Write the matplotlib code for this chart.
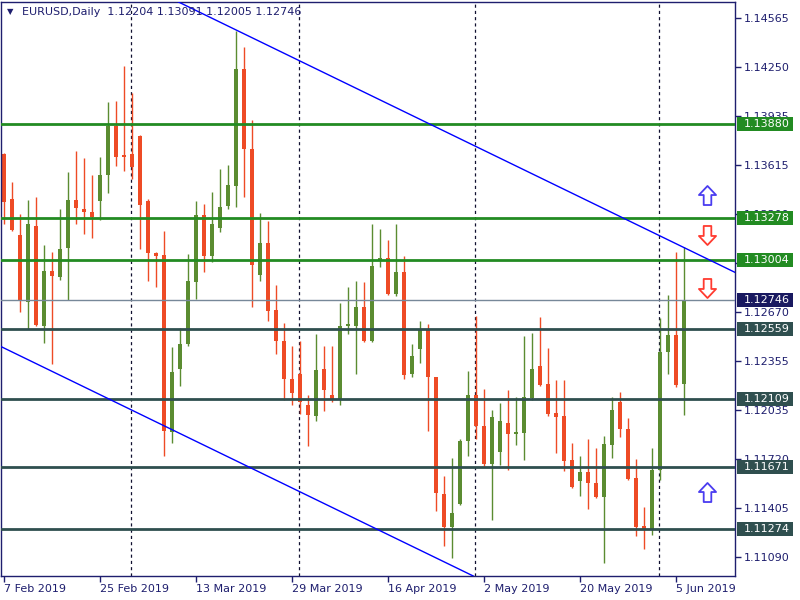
import matplotlib
matplotlib.use("Agg")
import matplotlib.pyplot as plt
import pandas as pd
from matplotlib.path import Path
from matplotlib.patches import Rectangle

# EURUSD daily candles, 7 Feb - 6 Jun 2019
dates = pd.bdate_range("2019-02-07", "2019-06-06")
opens = [1.13688, 1.13398, 1.13166, 1.12734, 1.13224, 1.12579, 1.12934, 1.12895, 1.13082, 1.13392,
         1.13334, 1.13314, 1.13385, 1.13553, 1.13869, 1.13682, 1.13688, 1.13804, 1.13385, 1.13050,
         1.13037, 1.11896, 1.12302, 1.12463, 1.12863, 1.13295, 1.13031, 1.13211, 1.13353, 1.13482,
         1.14236, 1.13720, 1.12908, 1.13114, 1.12682, 1.12482, 1.12237, 1.12269, 1.12070, 1.11999,
         1.12302, 1.12134, 1.12102, 1.12579, 1.12579, 1.12702, 1.12482, 1.13005, 1.13018, 1.12785,
         1.12927, 1.12269, 1.12431, 1.12559, 1.12250, 1.11496, 1.11283, 1.11431, 1.11838, 1.12134,
         1.11934, 1.11689, 1.11767, 1.11954, 1.11883, 1.11890, 1.12115, 1.12321, 1.12205, 1.12018,
         1.11999, 1.11715, 1.11580, 1.11638, 1.11567, 1.11477, 1.11812, 1.12089, 1.11915, 1.11599,
         1.11290, 1.11264, 1.11651, 1.12411, 1.12521, 1.12204]
highs = [1.13695, 1.13508, 1.13301, 1.13392, 1.13411, 1.13102, 1.13056, 1.13334, 1.13572, 1.13708,
         1.13662, 1.13553, 1.13669, 1.14023, 1.14030, 1.14256, 1.14082, 1.13810, 1.13398, 1.13055,
         1.13192, 1.12443, 1.12566, 1.13043, 1.13385, 1.13366, 1.13443, 1.13591, 1.13617, 1.14481,
         1.14378, 1.13907, 1.13308, 1.13256, 1.12844, 1.12598, 1.12450, 1.12482, 1.12134, 1.12527,
         1.12450, 1.12450, 1.12727, 1.12830, 1.12869, 1.12863, 1.13237, 1.13205, 1.13134, 1.13237,
         1.13031, 1.12463, 1.12611, 1.12592, 1.12250, 1.11612, 1.11728, 1.11851, 1.12289, 1.12643,
         1.12173, 1.12038, 1.12083, 1.12166, 1.12121, 1.12514, 1.12534, 1.12637, 1.12437, 1.12231,
         1.12231, 1.11825, 1.11741, 1.11851, 1.11793, 1.11870, 1.12121, 1.12153, 1.11986, 1.11722,
         1.11412, 1.11793, 1.12630, 1.12779, 1.13056, 1.13091]
lows = [1.13237, 1.13192, 1.12669, 1.12559, 1.12580, 1.12470, 1.12334, 1.12876, 1.12747, 1.13237,
        1.13172, 1.13147, 1.13263, 1.13437, 1.13611, 1.13579, 1.13527, 1.13076, 1.12869, 1.12830,
        1.11741, 1.11825, 1.12192, 1.12450, 1.12753, 1.12927, 1.12992, 1.13185, 1.13334, 1.13346,
        1.13411, 1.12702, 1.12869, 1.12611, 1.12398, 1.12102, 1.12070, 1.12012, 1.11806, 1.11967,
        1.12031, 1.12089, 1.12070, 1.12527, 1.12269, 1.12476, 1.12476, 1.12960, 1.12780, 1.12772,
        1.12237, 1.12250, 1.12340, 1.11902, 1.11386, 1.11161, 1.11083, 1.11425, 1.11741, 1.11851,
        1.11677, 1.11328, 1.11683, 1.11651, 1.11812, 1.11715, 1.12102, 1.12195, 1.11999, 1.11760,
        1.11644, 1.11535, 1.11483, 1.11399, 1.11470, 1.11051, 1.11728, 1.11864, 1.11586, 1.11225,
        1.11141, 1.11232, 1.11586, 1.12269, 1.12186, 1.12005]
closes = [1.13379, 1.13198, 1.12747, 1.13237, 1.12586, 1.12934, 1.12902, 1.13076, 1.13392, 1.13340,
          1.13314, 1.13282, 1.13553, 1.13869, 1.13669, 1.13669, 1.13604, 1.13360, 1.13050, 1.13031,
          1.11902, 1.12282, 1.12463, 1.12869, 1.13295, 1.13031, 1.13237, 1.13346, 1.13488, 1.14236,
          1.13720, 1.12972, 1.13114, 1.12676, 1.12482, 1.12237, 1.12147, 1.12089, 1.12006, 1.12295,
          1.12166, 1.12102, 1.12579, 1.12592, 1.12702, 1.12482, 1.12966, 1.13018, 1.12785, 1.12927,
          1.12263, 1.12386, 1.12559, 1.12250, 1.11502, 1.11283, 1.11373, 1.11838, 1.12134, 1.11934,
          1.11689, 1.11993, 1.11967, 1.11883, 1.11896, 1.12121, 1.12302, 1.12199, 1.12012, 1.11993,
          1.11709, 1.11541, 1.11638, 1.11567, 1.11477, 1.11818, 1.12038, 1.11915, 1.11593, 1.11283,
          1.11264, 1.11651, 1.12411, 1.12521, 1.12199, 1.12746]

# horizontal levels
upper_levels = [1.13880, 1.13278, 1.13004]
lower_levels = [1.12559, 1.12109, 1.11671, 1.11274]
price_ticks = [1.14565, 1.14250, 1.13935, 1.13615, 1.13300, 1.12985,
               1.12670, 1.12355, 1.12035, 1.11720, 1.11405, 1.11090]
date_tick_idx = [0, 12, 24, 36, 48, 60, 72, 84]

# descending channel: two anchors on the upper line, lower line is parallel
channel_x = [29, 85]
channel_top = [1.14488, 1.13085]
channel_width = 0.02777

# arrow objects on the right
arrow_x = 87.9
up_arrows = [1.13421, 1.11509]
down_arrows = [1.13163, 1.12827]

BULL = "#5b8c31"
BEAR = "#ee4b25"
NAVY = "#1e1e6e"
GREEN_LVL = "#228b22"
SLATE_LVL = "#2f4f4f"

plt.rcParams["font.family"] = "DejaVu Sans"
fig = plt.figure(figsize=(8, 6), dpi=100)
ax = fig.add_axes([1 / 800, 24 / 600, 734 / 800, 574 / 600])

# month separators
for i in range(1, len(dates)):
    if dates[i].month != dates[i - 1].month:
        ax.axvline(i - 0.12, color="#101030", lw=0.9, ls=(0, (2.5, 2.5)), zorder=0.5)

# candles
xs = list(range(len(opens)))
cols = [BULL if c > o else BEAR for o, c in zip(opens, closes)]
ax.vlines(xs, lows, highs, colors=cols, lw=1, zorder=2)
bottoms = [min(o, c) for o, c in zip(opens, closes)]
heights = [max(abs(c - o), 0.00004) for o, c in zip(opens, closes)]
ax.bar(xs, heights, bottom=bottoms, width=0.62, color=cols, lw=0, zorder=2)

# levels
for lv in upper_levels:
    ax.axhline(lv, color=GREEN_LVL, lw=2, zorder=3)
for lv in lower_levels:
    ax.axhline(lv, color=SLATE_LVL, lw=2, zorder=3)
ax.axhline(closes[-1], color="#778899", lw=1, zorder=3)

# channel
ax.axline((channel_x[0], channel_top[0]), (channel_x[1], channel_top[1]), color="#0000ff", lw=1, zorder=3)
ax.axline((channel_x[0], channel_top[0] - channel_width), (channel_x[1], channel_top[1] - channel_width),
          color="#0000ff", lw=1, zorder=3)

# hollow arrows
up_shape = Path([(0, 1), (0.9, 0.05), (0.4, 0.05), (0.4, -1), (-0.4, -1), (-0.4, 0.05), (-0.9, 0.05), (0, 1)],
                closed=True)
down_shape = Path([(x, -y) for x, y in up_shape.vertices], closed=True)
ax.plot([arrow_x] * len(up_arrows), up_arrows, ls="none", marker=up_shape, ms=13.7,
        mfc="white", mec="#4a3cf0", mew=1.3, zorder=4)
ax.plot([arrow_x] * len(down_arrows), down_arrows, ls="none", marker=down_shape, ms=13.7,
        mfc="white", mec="#ff3b30", mew=1.3, zorder=4)

ax.set_xlim(-0.375, 91.375)
ax.set_ylim(1.10968, 1.14668)

# axes styling
for sp in ax.spines.values():
    sp.set_color(NAVY)
    sp.set_linewidth(1)
ax.yaxis.tick_right()
ax.set_yticks(price_ticks)
ax.set_yticklabels([f"{p:.5f}" for p in price_ticks])
ax.set_xticks(date_tick_idx)
ax.set_xticklabels([f"{dates[i].day} {dates[i]:%b %Y}" for i in date_tick_idx], ha="left")
ax.tick_params(axis="both", colors=NAVY, labelcolor=NAVY, labelsize=8, length=4, width=1)
ax.tick_params(axis="x", pad=1.5)
ax.tick_params(axis="y", pad=2.5)

# level price tags
tag_h = 14 * (1.14668 - 1.10968) / 574
tags = [(lv, GREEN_LVL) for lv in upper_levels] + [(lv, SLATE_LVL) for lv in lower_levels]
tags.append((closes[-1], "#191960"))
for lv, c in tags:
    ax.add_patch(Rectangle((1.0027, lv - tag_h / 2), 0.0763, tag_h, transform=ax.get_yaxis_transform(),
                           facecolor=c, edgecolor="none", clip_on=False, zorder=5))
    ax.text(1.0123, lv, f"{lv:.5f}", transform=ax.get_yaxis_transform(), color="white",
            fontsize=8, ha="left", va="center", clip_on=False, zorder=6)

# header
ax.text(0.0082, 0.9826, "\u25bc", transform=ax.transAxes, fontsize=6, color=NAVY, ha="left", va="center")
ax.text(0.0286, 0.9826,
        f"EURUSD,Daily  {opens[-1]:.5f} {highs[-1]:.5f} {lows[-1]:.5f} {closes[-1]:.5f}",
        transform=ax.transAxes, fontsize=8, color=NAVY, ha="left", va="center")

fig.savefig("out.png", dpi=100)
plt.close(fig)
